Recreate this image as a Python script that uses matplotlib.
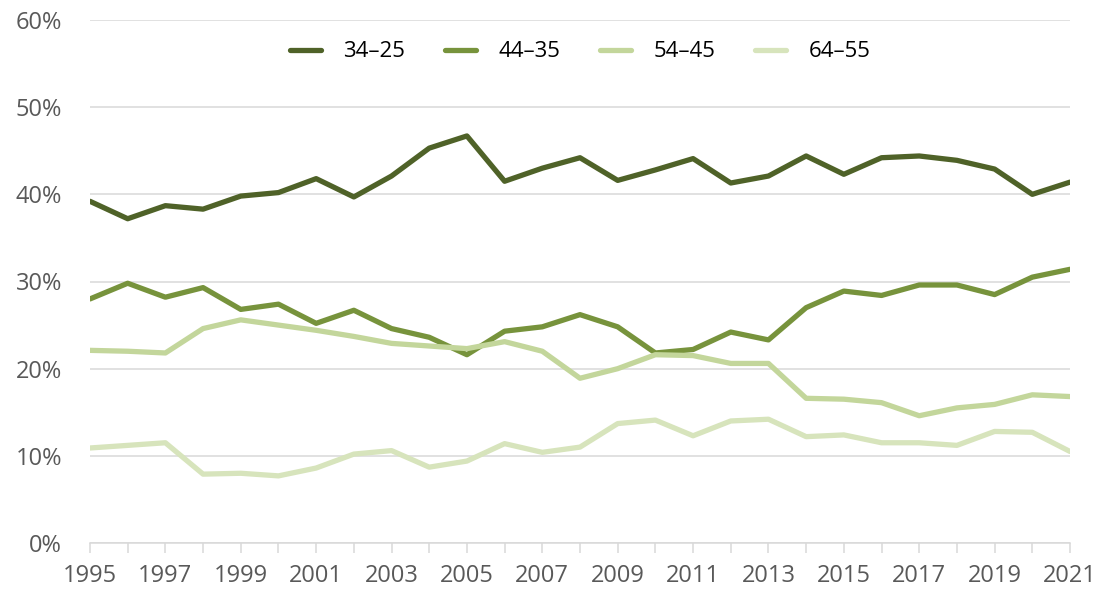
import matplotlib
matplotlib.use("Agg")
import matplotlib.pyplot as plt
from matplotlib.ticker import PercentFormatter

plt.rcParams['font.family'] = ['Open Sans', 'DejaVu Sans']

years = list(range(1995, 2022))
labels = ["34–25", "44–35", "54–45", "64–55"]
colors = ["#4f6228", "#77933c", "#c3d69b", "#d7e4bc"]

age_25_34 = [39.2, 37.2, 38.7, 38.3, 39.8, 40.2, 41.8, 39.7, 42.1, 45.3,
             46.7, 41.5, 43.0, 44.2, 41.6, 42.8, 44.1, 41.3, 42.1, 44.4,
             42.3, 44.2, 44.4, 43.9, 42.9, 40.0, 41.4]
age_35_44 = [28.0, 29.8, 28.2, 29.3, 26.8, 27.4, 25.2, 26.7, 24.6, 23.6,
             21.6, 24.3, 24.8, 26.2, 24.8, 21.8, 22.2, 24.2, 23.3, 27.0,
             28.9, 28.4, 29.6, 29.6, 28.5, 30.5, 31.4]
age_45_54 = [22.1, 22.0, 21.8, 24.6, 25.6, 25.0, 24.4, 23.7, 22.9, 22.6,
             22.3, 23.1, 22.0, 18.9, 20.0, 21.6, 21.5, 20.6, 20.6, 16.6,
             16.5, 16.1, 14.6, 15.5, 15.9, 17.0, 16.8]
age_55_64 = [10.9, 11.2, 11.5, 7.9, 8.0, 7.7, 8.6, 10.2, 10.6, 8.7,
             9.4, 11.4, 10.4, 11.0, 13.7, 14.1, 12.3, 14.0, 14.2, 12.2,
             12.4, 11.5, 11.5, 11.2, 12.8, 12.7, 10.5]

series = [age_25_34, age_35_44, age_45_54, age_55_64]

fig = plt.figure(figsize=(11.02, 5.96), dpi=100)
ax = fig.add_axes([90 / 1102, 53 / 596, 980 / 1102, 523 / 596])

for vals, lab, col in zip(series, labels, colors):
    ax.plot(years, vals, color=col, linewidth=3.8, label=lab,
            solid_joinstyle='round', solid_capstyle='round')

ax.set_xlim(1995, 2021)
ax.set_ylim(0, 60)
ax.set_yticks(range(0, 61, 10))
ax.yaxis.set_major_formatter(PercentFormatter(decimals=0))
ax.grid(axis='y', color='#d9d9d9', linewidth=1.1)
ax.set_axisbelow(True)

ax.set_xticks(years)
ax.set_xticklabels([str(y) if (y - 1995) % 2 == 0 else "" for y in years])

for s in ['top', 'right', 'left']:
    ax.spines[s].set_visible(False)
ax.spines['bottom'].set_color('#d9d9d9')
ax.spines['bottom'].set_linewidth(1.1)

ax.tick_params(axis='y', length=0, pad=20, labelsize=17, labelcolor='#595959')
ax.tick_params(axis='x', length=7, width=1.1, color='#d9d9d9', pad=8,
               labelsize=17, labelcolor='#595959')

ax.legend(loc='center', bbox_to_anchor=(0.5, 0.939), ncol=4, frameon=False,
          fontsize=16, handlelength=1.4, handletextpad=1.0, columnspacing=1.8)

fig.savefig("out.png", dpi=100)
